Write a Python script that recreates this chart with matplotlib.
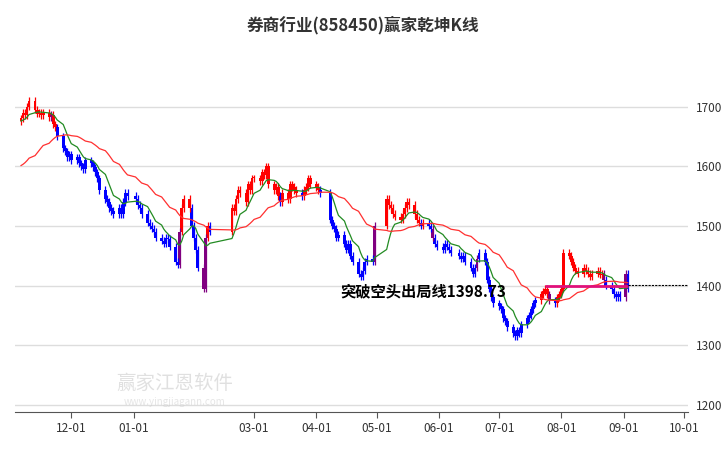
import matplotlib
matplotlib.use("Agg")
import matplotlib.pyplot as plt
import matplotlib.dates as mdates
import pandas as pd
import numpy as np

plt.rcParams['font.family'] = ['Noto Sans CJK SC', 'DejaVu Sans']

holidays = ["2024-01-01"] + [str(d.date()) for d in pd.date_range("2024-02-09", "2024-02-16")] + \
    ["2024-04-04", "2024-04-05", "2024-05-01", "2024-05-02", "2024-05-03", "2024-06-10"]

closes = {
    "2023-11": [1680,1690,1685,1700,1710,1695,1688,1690,1685,1690,1682,1686,1670,1665,1650,1630,1625,1615,1620],
    "2023-12": [1610,1615,1605,1600,1595,1610,1605,1598,1590,1580,1560,1545,1540,1530,1525,1520,1530,1520,1540,1555,1550],
    "2024-01": [1545,1535,1530,1520,1505,1500,1495,1490,1480,1475,1470,1480,1478,1465,1440,1435,1490,1530,1545,1530,1500,1480],
    "2024-02": [1460,1430,1395,1480,1500,1490,1530,1525,1545,1560,1555,1540,1570,1560,1580],
    "2024-03": [1580,1575,1590,1585,1600,1570,1560,1565,1550,1540,1555,1545,1570,1565,1560,1555,1550,1560,1565,1580,1570],
    "2024-04": [1565,1560,1555,1510,1500,1495,1480,1485,1470,1460,1470,1450,1440,1420,1415,1425,1440,1445,1440,1500],
    "2024-05": [1545,1535,1530,1520,1515,1510,1520,1530,1540,1535,1520,1510,1505,1500,1505,1500,1495,1480,1470,1465],
    "2024-06": [1460,1470,1465,1460,1455,1450,1445,1450,1440,1430,1420,1430,1445,1455,1440,1410,1395,1380,1370],
    "2024-07": [1365,1360,1345,1340,1330,1320,1315,1325,1320,1335,1345,1350,1360,1370,1375,1385,1390,1395,1385,1375,1370,1380,1385],
    "2024-08": [1395,1455,1450,1440,1430,1425,1420,1430,1425,1420,1415,1420,1425,1418,1420,1410,1400,1395,1385,1380,1385,1380],
    "2024-09": [1420,1395],
}
purple_dates = ["2023-11-21","2024-01-24","2024-02-05","2024-02-06","2024-04-30","2024-05-29",
                "2024-06-20","2024-07-26","2024-08-22","2024-09-02"]
first_open = 1675
long_ma_seed = 1600
short_ma_seed = 1675
breakout_value = 1398.73
breakout_start = "2024-07-24"
xtick_labels = ["12-01","01-01","03-01","04-01","05-01","06-01","07-01","08-01","09-01","10-01"]
xtick_dates = ["2023-12-01","2024-01-01","2024-03-01","2024-04-01","2024-05-01","2024-06-01",
               "2024-07-01","2024-08-01","2024-09-01","2024-10-01"]

dates, cl = [], []
for m, vals in closes.items():
    start = pd.Timestamp(m + "-01")
    if m == "2023-11":
        start = pd.Timestamp("2023-11-06")
    days = [d for d in pd.bdate_range(start, start + pd.offsets.MonthEnd(0)) if str(d.date()) not in holidays]
    for d, v in zip(days, vals):
        dates.append(d); cl.append(v)
df = pd.DataFrame({"close": cl}, index=pd.DatetimeIndex(dates))
df["open"] = df["close"].shift(1).fillna(first_open)

def smooth(series, seed, span, npad=10):
    s = pd.concat([pd.Series([seed] * npad), series.reset_index(drop=True)])
    s = s.ewm(span=span, adjust=False).mean().ewm(span=span, adjust=False).mean()
    return s.iloc[npad:].values

df["ma_s"] = smooth(df["close"], short_ma_seed, 5)
df["ma_l"] = smooth(df["close"], long_ma_seed, 16)

fig = plt.figure(figsize=(7.26, 4.5), dpi=100)
ax = fig.add_axes([15/726, 38/450, 673/726, 352/450])
x = mdates.date2num(df.index)
for xi, (d, r) in zip(x, df.iterrows()):
    o, c = r["open"], r["close"]
    if str(d.date()) in purple_dates:
        col = "#800080"
    else:
        col = "#ff0000" if c >= r["ma_l"] else "#0000ff"
    lo, hi = min(o, c), max(o, c)
    ax.vlines(xi, lo - 6, hi + 6, color=col, lw=0.9)
    ax.bar(xi, max(hi - lo, 2), bottom=lo, width=1.4, color=col, lw=0)
ax.plot(x, df["ma_s"], color="#228B22", lw=0.9)
ax.plot(x, df["ma_l"], color="#ff3030", lw=0.9)

bx0 = mdates.date2num(pd.Timestamp(breakout_start))
ax.hlines(breakout_value, bx0, x[-1], color="#e0107a", lw=2)
ax.hlines(breakout_value + 2, x[-1], mdates.date2num(pd.Timestamp("2024-10-12")), color="black", lw=0.8, linestyles=(0, (2, 1)))
ax.text(mdates.date2num(pd.Timestamp("2024-04-13")), 1390, "突破空头出局线1398.73", fontsize=11,
        fontweight="bold", va="center", ha="left")

ax.set_xlim(mdates.date2num(pd.Timestamp("2023-11-03")), mdates.date2num(pd.Timestamp("2024-10-03")))
ax.set_ylim(1188, 1778)
ax.set_yticks([1200,1300,1400,1500,1600,1700])
ax.yaxis.tick_right()
ax.tick_params(axis="y", length=0, labelsize=8.5, colors="#333333", pad=6)
ax.set_xticks(mdates.date2num(pd.to_datetime(xtick_dates)))
ax.set_xticklabels(xtick_labels, fontsize=8.5, color="#333333")
ax.tick_params(axis="x", length=4, color="#555555")
ax.grid(axis="y", color="#dddddd", lw=1)
ax.set_axisbelow(True)
for s in ["top", "right", "left"]:
    ax.spines[s].set_visible(False)
ax.spines["bottom"].set_color("#555555")
fig.text(0.5, 0.945, "券商行业(858450)赢家乾坤K线", ha="center", va="center", fontsize=12, fontweight="bold", color="#333333")
fig.text(0.16, 0.135, "赢家江恩软件", fontsize=14, color="#cccccc", alpha=0.6, ha="left")
fig.text(0.17, 0.1, "www.yingjiagann.com", fontsize=7, color="#cccccc", alpha=0.5, ha="left")
fig.savefig("out.png", dpi=100)
